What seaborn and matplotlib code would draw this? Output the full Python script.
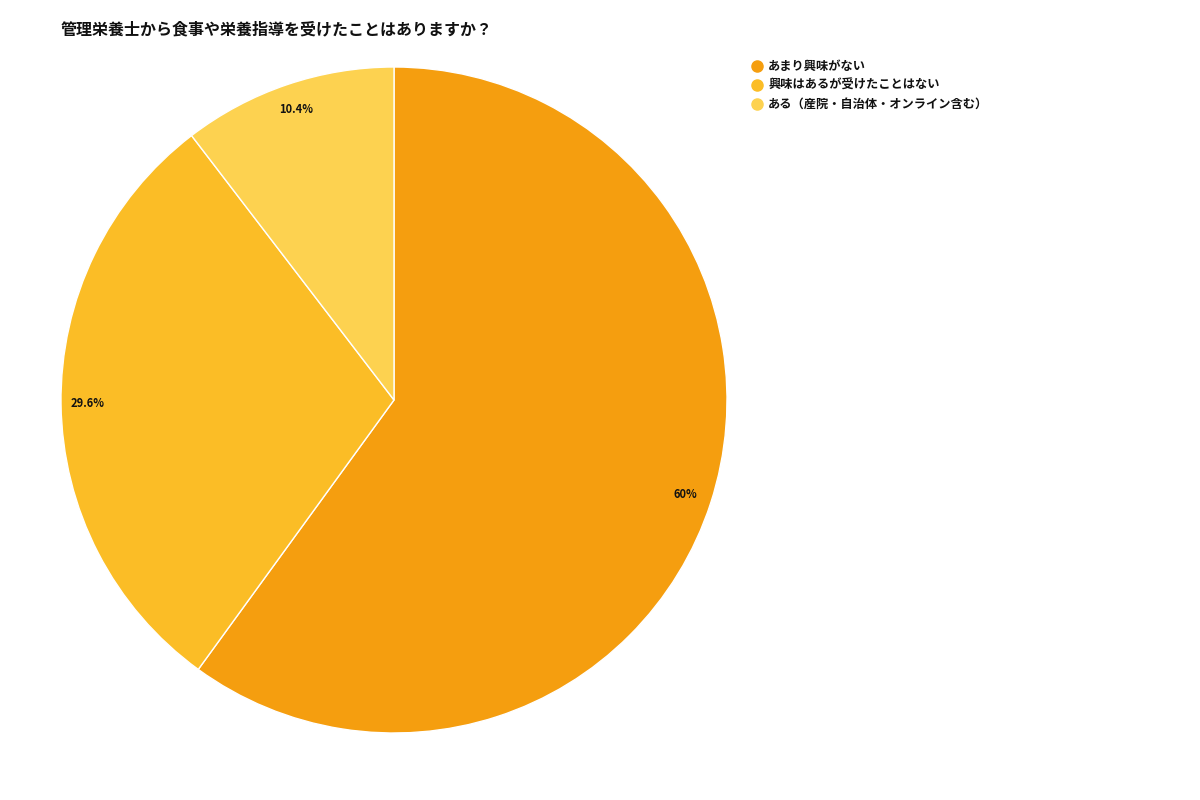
import seaborn as sns
import matplotlib.pyplot as plt
from matplotlib.lines import Line2D

# Data
categories = ["あまり興味がない", "興味はあるが受けたことはない", "ある（産院・自治体・オンライン含む）"]
shares = [60.0, 29.6, 10.4]
pct_labels = ["60%", "29.6%", "10.4%"]
colors = ["#F59E0F", "#FBBD26", "#FDD250"]
title = "管理栄養士から食事や栄養指導を受けたことはありますか？"

sns.set_theme(style="white")
plt.rcParams["font.family"] = ["Noto Sans CJK JP", "DejaVu Sans"]

fig = plt.figure(figsize=(12, 8), dpi=100)
ax = fig.add_axes([394 / 1200 - 333 / 1200, (800 - 733) / 800, 666 / 1200, 666 / 800])

wedges, texts = ax.pie(
    shares,
    colors=colors,
    startangle=90,
    counterclock=False,
    labels=pct_labels,
    labeldistance=0.92,
    wedgeprops=dict(edgecolor="white", linewidth=1),
    textprops=dict(fontsize=8, fontweight="bold", color="#111111", ha="center", va="center"),
)
ax.set_xlim(-1, 1)
ax.set_ylim(-1, 1)
ax.set_aspect("equal")

fig.text(61 / 1200, 1 - 29 / 800, title, fontsize=11.5, fontweight="bold",
         color="#111111", ha="left", va="center")

handles = [Line2D([0], [0], marker="o", linestyle="", markersize=8,
                  markerfacecolor=c, markeredgecolor=c) for c in colors]
leg = fig.legend(handles, categories, loc="upper left",
                 bbox_to_anchor=(751 / 1200, 1 - 60 / 800),
                 frameon=False, borderpad=0, borderaxespad=0,
                 handlelength=1.0, handletextpad=0.4, labelspacing=0.5,
                 prop=dict(size=8.8, weight="bold"))
for t in leg.get_texts():
    t.set_color("#111111")

fig.savefig("out.png", dpi=100)
